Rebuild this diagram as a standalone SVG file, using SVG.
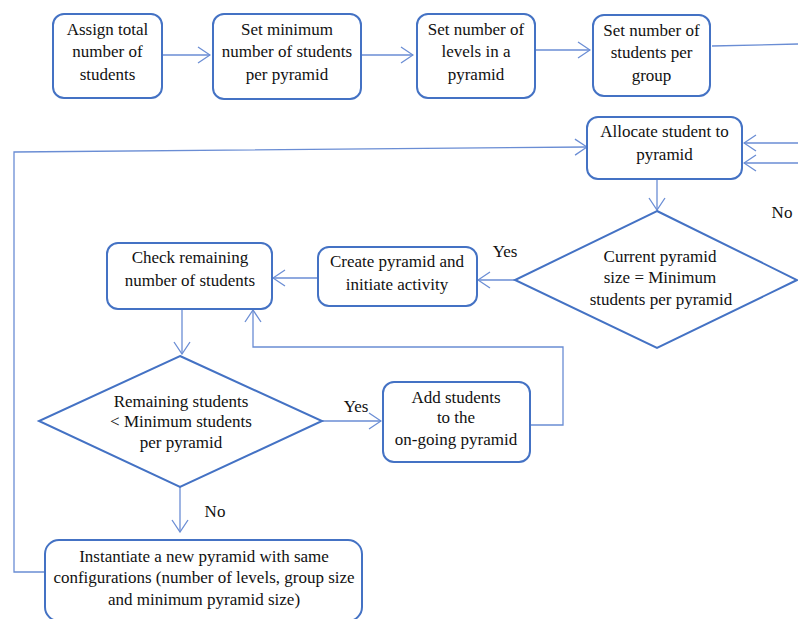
<svg xmlns="http://www.w3.org/2000/svg" width="798" height="619" viewBox="0 0 798 619">
<style>
  .box{fill:#fff;stroke:#4472C4;stroke-width:2}
  .dia{fill:#fff;stroke:#4472C4;stroke-width:2}
  .con{fill:none;stroke:#6A8DD4;stroke-width:1.3}
  text{font-family:"Times New Roman","Liberation Serif",Tinos,"DejaVu Serif",serif;font-size:17px;fill:#111;text-anchor:middle}
</style>
<defs>
  <marker id="ah" viewBox="0 0 14 18" refX="13" refY="9" markerWidth="14" markerHeight="18" markerUnits="userSpaceOnUse" orient="auto">
    <path d="M1,1 L13,9 L1,17" fill="none" stroke="#6A8DD4" stroke-width="1.3"/>
  </marker>
</defs>
<rect width="798" height="619" fill="#fff"/>
<g id="connectors">
  <path class="con" d="M162,55 H210" marker-end="url(#ah)"/>
  <path class="con" d="M361,55 H413" marker-end="url(#ah)"/>
  <path class="con" d="M535,50 H590" marker-end="url(#ah)"/>
  <path class="con" d="M712,46 L798,44"/>
  <path class="con" d="M798,143 H744" marker-end="url(#ah)"/>
  <path class="con" d="M798,163 H744" marker-end="url(#ah)"/>
  <path class="con" d="M45,572 H14 V152 L587,147" marker-end="url(#ah)"/>
  <path class="con" d="M657,179 V210" marker-end="url(#ah)"/>
  <path class="con" d="M515,280 H478" marker-end="url(#ah)"/>
  <path class="con" d="M318,278 H273" marker-end="url(#ah)"/>
  <path class="con" d="M182,309 V354" marker-end="url(#ah)"/>
  <path class="con" d="M322,421 H381" marker-end="url(#ah)"/>
  <path class="con" d="M530,425 H563 V347 H253 V310" marker-end="url(#ah)"/>
  <path class="con" d="M180,487 V532" marker-end="url(#ah)"/>
  <text x="505" y="257">Yes</text>
  <text x="782" y="218">No</text>
  <text x="356" y="412">Yes</text>
  <text x="215" y="517">No</text>
</g>
<g id="n1">
  <rect class="box" x="53" y="14" width="109" height="84" rx="11"/>
  <text x="107.5" y="35">Assign total</text>
  <text x="107.5" y="57">number of</text>
  <text x="107.5" y="80">students</text>
</g>
<g id="n2">
  <rect class="box" x="213" y="14" width="148" height="85" rx="11"/>
  <text x="287" y="35">Set minimum</text>
  <text x="287" y="57">number of students</text>
  <text x="287" y="80">per pyramid</text>
</g>
<g id="n3">
  <rect class="box" x="417" y="14" width="118" height="84" rx="11"/>
  <text x="476" y="35">Set number of</text>
  <text x="476" y="57">levels in a</text>
  <text x="476" y="80">pyramid</text>
</g>
<g id="n4">
  <rect class="box" x="593" y="15" width="117" height="81" rx="11"/>
  <text x="651.5" y="36">Set number of</text>
  <text x="651.5" y="58">students per</text>
  <text x="651.5" y="81">group</text>
</g>
<g id="n5">
  <rect class="box" x="587" y="117" width="155" height="62" rx="11"/>
  <text x="664.5" y="137">Allocate student to</text>
  <text x="664.5" y="160">pyramid</text>
</g>
<g id="d1">
  <polygon class="dia" points="657,211 797,280 657,348 515,280"/>
  <text x="660" y="262">Current pyramid</text>
  <text x="660" y="283">size = Minimum</text>
  <text x="661" y="305">students per pyramid</text>
</g>
<g id="n6">
  <rect class="box" x="318" y="247" width="159" height="59" rx="11"/>
  <text x="397" y="267">Create pyramid and</text>
  <text x="397" y="290">initiate activity</text>
</g>
<g id="n7">
  <rect class="box" x="107" y="243" width="165" height="66" rx="11"/>
  <text x="190" y="263">Check remaining</text>
  <text x="190" y="286">number of students</text>
</g>
<g id="d2">
  <polygon class="dia" points="180,356 322,421 180,487 39,421"/>
  <text x="181" y="407">Remaining students</text>
  <text x="181" y="427">&lt; Minimum students</text>
  <text x="181" y="448">per pyramid</text>
</g>
<g id="n8">
  <rect class="box" x="383" y="382" width="147" height="80" rx="11"/>
  <text x="456" y="403">Add students</text>
  <text x="456" y="423">to the</text>
  <text x="456" y="445">on-going pyramid</text>
</g>
<g id="n9">
  <rect class="box" x="45" y="540" width="317" height="81" rx="14"/>
  <text x="204" y="562">Instantiate a new pyramid with same</text>
  <text x="204" y="583">configurations (number of levels, group size</text>
  <text x="204" y="605">and minimum pyramid size)</text>
</g>
</svg>
